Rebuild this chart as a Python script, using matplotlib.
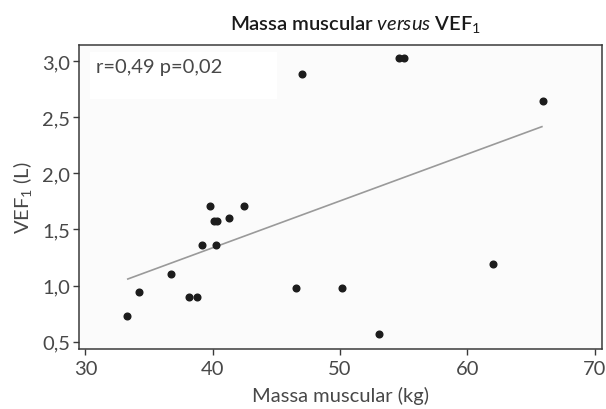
import numpy as np
import matplotlib
matplotlib.use("Agg")
import matplotlib.pyplot as plt
from matplotlib.patches import Rectangle

# massa muscular (kg) vs VEF1 (L)
massa = [33.25, 34.24, 36.76, 38.17, 38.80, 39.17, 39.82, 40.10, 40.30, 40.27,
         41.29, 42.44, 46.53, 47.00, 50.19, 53.02, 54.60, 55.00, 62.00, 65.93]
vef1 = [0.73, 0.945, 1.10, 0.897, 0.897, 1.36, 1.71, 1.576, 1.576, 1.36,
        1.605, 1.71, 0.978, 2.89, 0.978, 0.567, 3.03, 3.03, 1.19, 2.645]

# regression line ends
fit_x = [33.33, 65.85]
fit_y = [1.058, 2.418]

xticks = [30, 40, 50, 60, 70]
yticks = [0.5, 1.0, 1.5, 2.0, 2.5, 3.0]
yticklabels = ["0,5", "1,0", "1,5", "2,0", "2,5", "3,0"]

plt.rcParams["font.family"] = ["Lato", "DejaVu Sans"]
plt.rcParams["mathtext.fontset"] = "custom"
plt.rcParams["mathtext.rm"] = "Lato"
plt.rcParams["mathtext.it"] = "Lato:italic"

txt = "#484848"

fig = plt.figure(figsize=(6.06, 4.10), dpi=100)
ax = fig.add_axes([0.130, 0.1463, 0.8634, 0.7415])
ax.set_facecolor("#fbfbfb")

ax.add_patch(Rectangle((0.0216, 0.822), 0.357, 0.155, transform=ax.transAxes,
                       facecolor="white", edgecolor="none", zorder=1))

ax.plot(fit_x, fit_y, color="#9a9a9a", linewidth=1.2, zorder=2)
ax.plot(massa, vef1, "o", color="#1c1c1c", markersize=4.8, zorder=3)

ax.set_xlim(29.48, 70.57)
ax.set_ylim(0.433, 3.147)
ax.set_xticks(xticks)
ax.set_xticklabels([str(t) for t in xticks])
ax.set_yticks(yticks)
ax.set_yticklabels(yticklabels)

for s in ax.spines.values():
    s.set_color("#3a3a3a")
    s.set_linewidth(1.1)
ax.tick_params(direction="out", length=4, width=1, color="#3a3a3a",
               labelsize=14.5, labelcolor=txt)
ax.tick_params(axis="x", pad=4)
ax.tick_params(axis="y", pad=2)

ax.text(0.0325, 0.93, "r=0,49 p=0,02", transform=ax.transAxes, fontsize=14.5,
        color=txt, va="center", ha="left", zorder=4)

ax.set_xlabel("Massa muscular (kg)", fontsize=14.5, color=txt, labelpad=6)
ax.set_ylabel("VEF$_1$ (L)", fontsize=14.5, color=txt, labelpad=6)

fig.text(0.586, 0.94, r"Massa muscular $\mathit{versus}$ VEF$_1$", ha="center",
         va="center", fontsize=14.5, fontweight="semibold", color="#1a1a1a")

fig.savefig("out.png", dpi=100)
